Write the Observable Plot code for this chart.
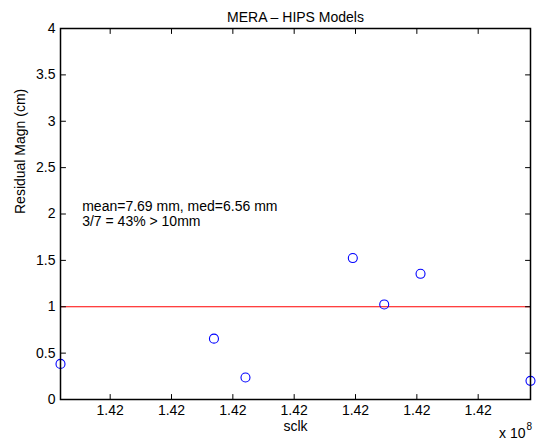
<!DOCTYPE html>
<html><head><meta charset="utf-8">
<script src="https://cdn.jsdelivr.net/npm/d3@7"></script>
<script src="https://cdn.jsdelivr.net/npm/@observablehq/plot@0.6"></script>
<style>body{margin:0;background:#fff}</style>
</head><body><div id="chart"></div>
<script>
const sclk = [141923800, 141973840, 141984120, 142019120, 142029360, 142041200, 142077060];
const residualCm = [0.384, 0.656, 0.237, 1.525, 1.025, 1.355, 0.201];
const xTicks = [141940000, 141960000, 141980000, 142000000, 142020000, 142040000, 142060000];
const yTicks = [0, 0.5, 1, 1.5, 2, 2.5, 3, 3.5, 4];
const thresholdCm = 1;
const title = "MERA – HIPS Models";
const xLabel = "sclk";
const yLabel = "Residual Magn (cm)";
const exponentBase = "x 10";
const exponent = "8";
const statsText = "mean=7.69 mm, med=6.56 mm\n3/7 = 43% > 10mm";
const statsX = 141930870;
const statsY = 2;

const points = sclk.map((x, i) => ({x, y: residualCm[i]}));
const tickShape = {draw(ctx, l) { ctx.moveTo(0, 0); ctx.lineTo(0, -l); }};
const tickOpts = {length: 5, anchor: "start", shape: tickShape, stroke: "black", strokeWidth: 1};

const chart = Plot.plot({
  width: 538,
  height: 446,
  marginLeft: 60,
  marginRight: 8,
  marginTop: 28,
  marginBottom: 47,
  style: {fontFamily: "'Liberation Sans', Arial, Helvetica, sans-serif", fontSize: "14px", color: "black", background: "white"},
  x: {domain: d3.extent(sclk)},
  y: {domain: [yTicks[0], yTicks[yTicks.length - 1]]},
  marks: [
    Plot.ruleY([thresholdCm], {stroke: "#ff0000", strokeWidth: 1.2}),
    Plot.dot(points, {x: "x", y: "y", r: 4.5, stroke: "#0000ff", fill: "none", strokeWidth: 1.1}),
    Plot.frame({stroke: "black", strokeWidth: 1.5}),
    Plot.vector(xTicks, {x: d => d, frameAnchor: "bottom", rotate: 0, ...tickOpts}),
    Plot.vector(xTicks, {x: d => d, frameAnchor: "top", rotate: 180, ...tickOpts}),
    Plot.vector(yTicks, {y: d => d, frameAnchor: "left", rotate: 90, ...tickOpts}),
    Plot.vector(yTicks, {y: d => d, frameAnchor: "right", rotate: -90, ...tickOpts}),
    Plot.axisX(xTicks, {tickSize: 0, tickPadding: 6, tickFormat: d => (d / 1e8).toFixed(2), label: null}),
    Plot.axisY(yTicks, {tickSize: 0, tickPadding: 5, tickFormat: d => String(d), label: null}),
    Plot.text([statsText], {x: () => statsX, y: () => statsY, text: d => d, textAnchor: "start", lineHeight: 1.07, fill: "black"}),
    Plot.text([title], {text: d => d, frameAnchor: "top", dy: -16, fill: "black"}),
    Plot.text([xLabel], {text: d => d, frameAnchor: "bottom", dy: 31, fill: "black"}),
    Plot.text([yLabel], {text: d => d, frameAnchor: "left", rotate: -90, dx: -40, fill: "black"}),
    Plot.text([exponentBase], {text: d => d, frameAnchor: "bottom-right", textAnchor: "end", dx: -5, dy: 38, fill: "black"}),
    Plot.text([exponent], {text: d => d, frameAnchor: "bottom-right", textAnchor: "start", dx: -4, dy: 30, fontSize: 10, fill: "black"})
  ]
});
document.getElementById("chart").appendChild(chart);
</script>
</body></html>
